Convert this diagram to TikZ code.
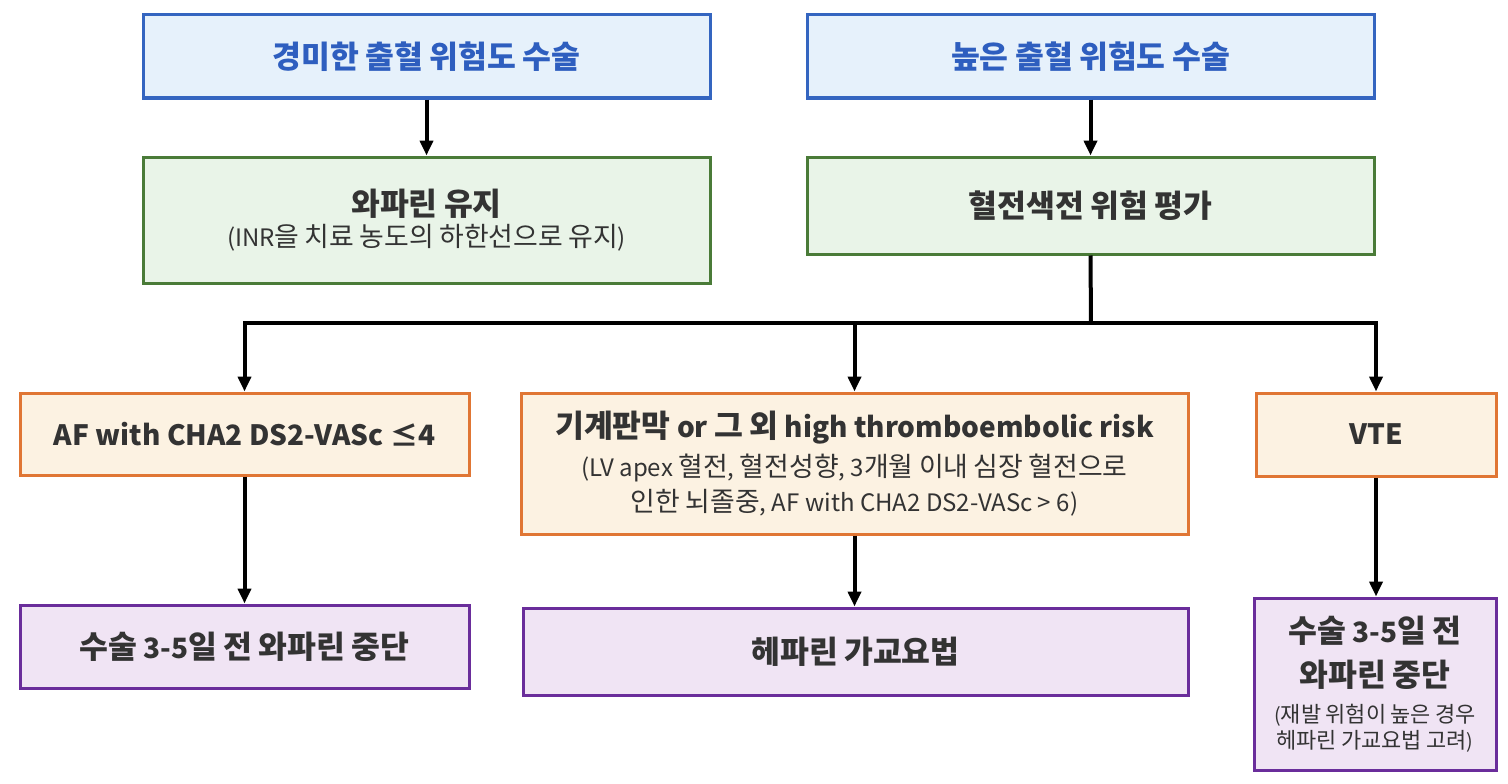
\documentclass[tikz,border=0pt]{standalone}
\usepackage{fontspec}
\setmainfont{Noto Sans CJK KR}
\newfontfamily\krfam{Noto Sans CJK KR}[Scale=1.12]
\newfontfamily\latfam{Noto Sans CJK KR}
\XeTeXinterchartokenstate=1
\newXeTeXintercharclass\HangulClass
\newcount\hcnt
\hcnt="AC00
\loop \XeTeXcharclass\hcnt=\HangulClass \advance\hcnt by 1 \ifnum\hcnt<"D7A4 \repeat
\XeTeXinterchartoks 0 \HangulClass = {\krfam}
\XeTeXinterchartoks 4095 \HangulClass = {\krfam}
\XeTeXinterchartoks \HangulClass 0 = {\latfam}
\XeTeXinterchartoks \HangulClass 4095 = {\latfam}
\usetikzlibrary{arrows.meta}
\definecolor{bluebd}{HTML}{3465C0}
\definecolor{bluefl}{HTML}{E6F1FB}
\definecolor{bluetx}{HTML}{2E5EBF}
\definecolor{greenbd}{HTML}{4A7B38}
\definecolor{greenfl}{HTML}{E9F4E8}
\definecolor{orangebd}{HTML}{E07634}
\definecolor{orangefl}{HTML}{FCF2E2}
\definecolor{purplebd}{HTML}{6A2D9B}
\definecolor{purplefl}{HTML}{F0E4F4}
\definecolor{txt}{HTML}{333333}
\newcommand\ttl{\fontsize{28}{34}\selectfont\bfseries}
\newcommand\subt{\fontsize{24}{30}\selectfont\mdseries}
\newcommand\smallt{\fontsize{19.6}{24}\selectfont\mdseries}
\tikzset{
  box/.style={draw, line width=3pt, minimum width=#1, inner sep=0pt, align=center, text=txt},
  bluebox/.style={box=567pt, draw=bluebd, fill=bluefl, text=bluetx, minimum height=83pt},
  greenbox/.style={box=567pt, draw=greenbd, fill=greenfl},
  orangebox/.style={box=#1, draw=orangebd, fill=orangefl},
  purplebox/.style={box=#1, draw=purplebd, fill=purplefl},
  arr/.style={line width=4pt, -{Triangle[length=15pt,width=13pt]}},
}
\begin{document}
\begin{tikzpicture}[x=1pt,y=-1pt]
\useasboundingbox (0,0) rectangle (1508,784);
\node[bluebox] (A) at (426.5,56.5) {\ttl 경미한 출혈 위험도 수술};
\node[bluebox] (B) at (1090.5,56.5) {\ttl 높은 출혈 위험도 수술};
\node[greenbox, minimum height=126pt, font=\fontsize{20}{31}\selectfont] (C) at (426.5,220) {\ttl 와파린 유지\\\subt (INR을 치료 농도의 하한선으로 유지)};
\node[greenbox, minimum height=97pt] (D) at (1090.5,205.5) {\ttl 혈전색전 위험 평가};
\node[orangebox=449pt, minimum height=82pt] (E) at (244.5,434) {\ttl AF with CHA2 DS2-VASc ≤4};
\node[orangebox=667pt, minimum height=141pt, font=\fontsize{20}{35}\selectfont] (F) at (854.5,463.5) {\ttl 기계판막 or 그 외 high thromboembolic risk\\[4pt]\subt (LV apex 혈전, 혈전성향, 3개월 이내 심장 혈전으로\\\subt 인한 뇌졸중, AF with CHA2 DS2-VASc > 6)};
\node[orangebox=240pt, minimum height=83pt] (G) at (1376,434.5) {\ttl VTE};
\node[purplebox=449pt, minimum height=83pt] (H) at (244.5,646.5) {\ttl 수술 3-5일 전 와파린 중단};
\node[purplebox=665pt, minimum height=87pt] (I) at (855.5,651.5) {\ttl 헤파린 가교요법};
\node[purplebox=242pt, minimum height=172pt, font=\fontsize{18}{26}\selectfont] (J) at (1375,684) {\ttl 수술 3-5일 전\\[14pt]\ttl 와파린 중단\\[10pt]\smallt (재발 위험이 높은 경우\\\smallt 헤파린 가교요법 고려)};
\coordinate (j) at (1091,323);
\draw[arr] (A.south) -- (C.north);
\draw[arr] (B.south) -- (D.north);
\draw[line width=4pt] (D.south) -- (j);
\draw[arr] (j) -| (E.north);
\draw[arr] (j) -| (F.north);
\draw[arr] (j) -| (G.north);
\draw[arr] (E.south) -- (H.north);
\draw[arr] (F.south) -- (F.south |- I.north);
\draw[arr] (G.south) -- (G.south |- J.north);
\end{tikzpicture}
\end{document}
